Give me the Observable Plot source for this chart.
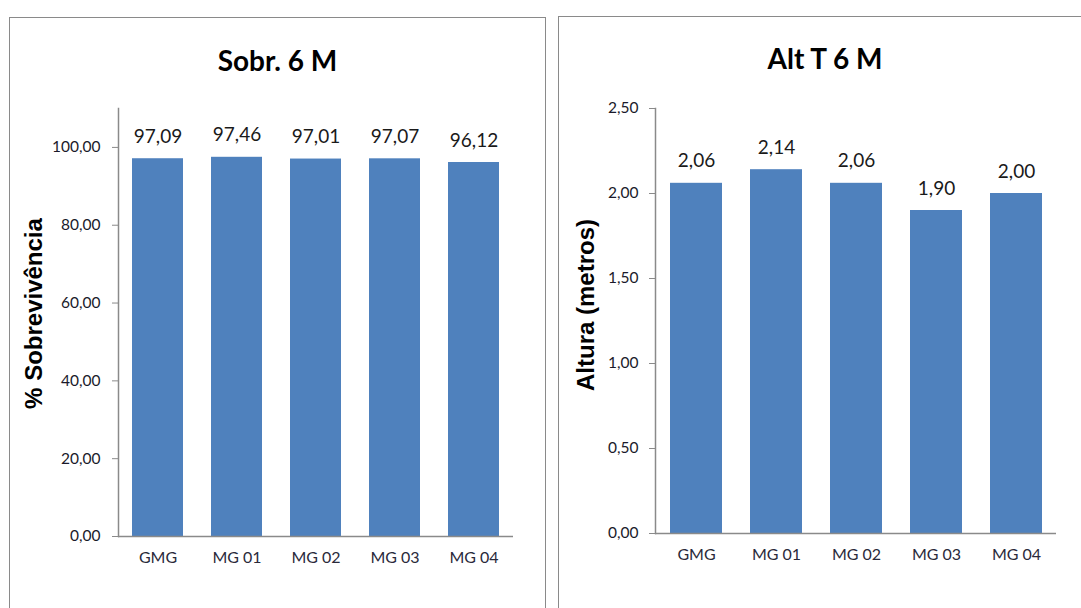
<!DOCTYPE html>
<html>
<head>
<meta charset="utf-8">
<script src="https://cdn.jsdelivr.net/npm/d3@7"></script>
<script src="https://cdn.jsdelivr.net/npm/@observablehq/plot@0.6"></script>
<style>
  html, body { margin: 0; padding: 0; background: #fff; width: 1081px; height: 608px; overflow: hidden; }
  .panel { position: absolute; border: 1.5px solid #8a8a8a; background: #fff; box-sizing: border-box; }
  .title { position: absolute; left: 0; text-align: center; font-family: Lato, "Open Sans", sans-serif; font-weight: bold; font-size: 28px; color: #000; white-space: nowrap; }
  .plot { position: absolute; left: 0; top: 0; }
</style>
</head>
<body>
<div id="p1" class="panel" style="left:9px; top:17px; width:537px; height:640px;">
  <div class="title" style="top:25px; width:535px;">Sobr. 6 M</div>
  <div class="plot" id="c1"></div>
</div>
<div id="p2" class="panel" style="left:558px; top:16px; width:560px; height:640px;">
  <div class="title" style="top:24px; width:532px;">Alt T 6 M</div>
  <div class="plot" id="c2"></div>
</div>
<script>
const categories = ["GMG", "MG 01", "MG 02", "MG 03", "MG 04"];
const survival = [97.09, 97.46, 97.01, 97.07, 96.12];
const height6m = [2.06, 2.14, 2.06, 1.90, 2.00];
const survivalTicks = [0, 20, 40, 60, 80, 100];
const heightTicks = [0, 0.5, 1, 1.5, 2, 2.5];

const fmt = d => d.toFixed(2).replace(".", ",");
const barColor = "#4F81BD";
const axisColor = "#8a8a8a";

function chart({values, ticks, domain, label, width, height, marginLeft, marginRight, marginTop, marginBottom, labelDx, labelDy, tickPadding}) {
  const data = categories.map((c, i) => ({cat: c, v: values[i]}));
  return Plot.plot({
    width, height, marginLeft, marginRight, marginTop, marginBottom,
    style: {fontFamily: "Lato, 'Open Sans', sans-serif", color: "#222", background: "transparent"},
    x: {domain: categories, paddingInner: 0.35, paddingOuter: 0.175},
    y: {domain},
    marks: [
      Plot.barY(data, {x: "cat", y: "v", fill: barColor}),
      Plot.frame({anchor: "left", stroke: axisColor, strokeWidth: 1.5}),
      Plot.ruleY([0], {stroke: axisColor, strokeWidth: 1.5}),
      Plot.axisY({ticks, tickFormat: fmt, tickSize: 6, tickPadding, stroke: axisColor,
        label: null, fontSize: 15.5, fill: "#1a1a2a"}),
      Plot.axisX({tickSize: 0, tickPadding: 15, label: null, fontSize: 16, fill: "#2a2a3a"}),
      Plot.text([label], {frameAnchor: "left", dx: labelDx, dy: labelDy, rotate: -90,
        text: d => d, textAnchor: "middle", fontFamily: "'Liberation Sans', Arial, sans-serif", fontWeight: "bold",
        fontSize: 24, fill: "#000", lineAnchor: "middle"}),
      Plot.text(data, {x: "cat", y: "v", text: d => fmt(d.v), dy: -16, lineAnchor: "bottom",
        fontSize: 19, fill: "#1a1a1a"})
    ]
  });
}

const c1 = chart({values: survival, ticks: survivalTicks, domain: [0, 110], label: "% Sobrevivência",
  width: 535, height: 590, marginLeft: 108, marginRight: 32, marginTop: 90, marginBottom: 72,
  labelDx: -84, labelDy: -9, tickPadding: 12});
const c2 = chart({values: height6m, ticks: heightTicks, domain: [0, 2.5], label: "Altura (metros)",
  width: 522, height: 591, marginLeft: 96, marginRight: 25, marginTop: 91, marginBottom: 75,
  labelDx: -69, labelDy: -16, tickPadding: 11});

document.getElementById("c1").appendChild(c1);
document.getElementById("c2").appendChild(c2);
</script>
</body>
</html>
